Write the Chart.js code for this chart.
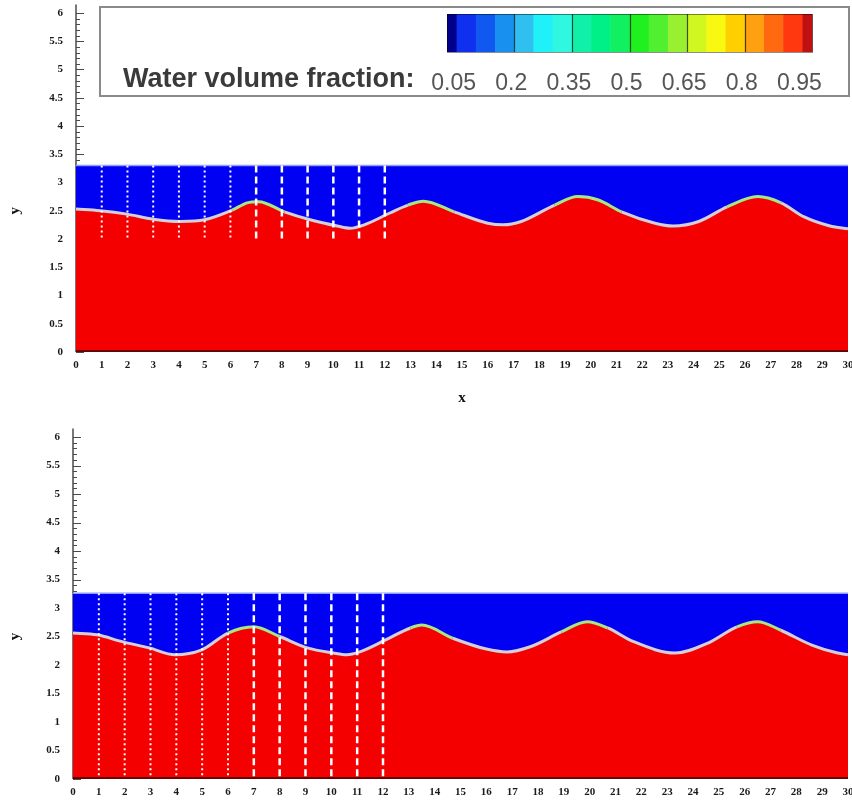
<!DOCTYPE html>
<html>
<head>
<meta charset="utf-8">
<script src="https://cdn.jsdelivr.net/npm/chart.js@4.4.0/dist/chart.umd.min.js"></script>
<style>
    html, body { margin: 0; padding: 0; background: #fff; }
    #wrap { position: relative; width: 852px; height: 801px; }
    canvas { position: absolute; left: 0; }
</style>
</head>
<body>
<div id="wrap">
    <canvas id="topChart" width="852" height="410" style="top:0"></canvas>
    <canvas id="bottomChart" width="852" height="391" style="top:410px"></canvas>
</div>
<script>
/**
 * Données (unités du domaine x / y)
 */
const xTicksMax = 30;
const yTicksMax = 6;
const yTickValues = [0, 0.5, 1, 1.5, 2, 2.5, 3, 3.5, 4, 4.5, 5, 5.5, 6];

// Surface libre - panneau du haut
const topSurfaceX = [0, 0.93, 1.98, 3.0, 4.05, 5.0, 6.07, 6.65, 7.1, 8.1, 9.1, 10.15, 10.65, 11.2, 12.2, 12.9, 13.5, 14.7, 16.0, 16.6, 17.3, 18.6, 19.5, 20.3, 21.2, 22.5, 23.2, 24.2, 25.3, 26.5, 27.4, 28.3, 29.3, 30];
const topSurfaceY = [2.53, 2.50, 2.44, 2.35, 2.31, 2.34, 2.51, 2.64, 2.66, 2.48, 2.34, 2.23, 2.19, 2.25, 2.46, 2.60, 2.67, 2.48, 2.28, 2.25, 2.31, 2.60, 2.75, 2.69, 2.48, 2.28, 2.23, 2.31, 2.57, 2.75, 2.64, 2.39, 2.23, 2.18];
const topWaterTop = 3.3;
const topGaugeBottom = 2.0;

// Surface libre - panneau du bas
const bottomSurfaceX = [0, 0.93, 1.9, 2.95, 3.95, 4.96, 6.0, 7.0, 8.0, 9.07, 10.08, 10.6, 11.1, 12.1, 13.06, 13.5, 14.7, 16.0, 16.8, 17.7, 18.9, 19.9, 20.7, 21.7, 23.3, 24.6, 25.7, 26.5, 27.4, 28.6, 29.6, 30];
const bottomSurfaceY = [2.56, 2.53, 2.41, 2.30, 2.18, 2.26, 2.56, 2.67, 2.50, 2.30, 2.21, 2.18, 2.23, 2.44, 2.65, 2.70, 2.47, 2.28, 2.23, 2.32, 2.58, 2.76, 2.65, 2.41, 2.21, 2.39, 2.67, 2.76, 2.61, 2.35, 2.21, 2.18];
const bottomWaterTop = 3.26;
const bottomGaugeBottom = 0;

// Sondes (lignes pointillées)
const gaugeX = [1, 2, 3, 4, 5, 6, 7, 8, 9, 10, 11, 12];

// Légende (fraction volumique)
const legendLabels = [0.05, 0.2, 0.35, 0.5, 0.65, 0.8, 0.95];
const legendLevels = [0.025, 0.05, 0.1, 0.15, 0.2, 0.25, 0.3, 0.35, 0.4, 0.45, 0.5, 0.55, 0.6, 0.65, 0.7, 0.75, 0.8, 0.85, 0.9, 0.95, 0.975];
const legendColors = ['#00008c', '#1030f0', '#1058f0', '#1890f0', '#30c0f0', '#20f0f8', '#30f8e0', '#10f0a8', '#00f088', '#10f060',
                      '#20f020', '#50f030', '#98f030', '#d0f820', '#f8f810', '#ffd000', '#ffa010', '#ff6a10', '#ff3810', '#c01010'];

const WATER_BLUE = '#0000f2';
const WATER_RED = '#f40000';
const tickFont = { family: '"Liberation Serif", "DejaVu Serif", serif', size: 11, weight: 'bold' };

/**
 * Axe y : ligne, graduations majeures et mineures vers l'intérieur, titre
 */
const axisDecor = {
    id: 'axisDecor',
    beforeDatasetsDraw(chart) {
        const { ctx, chartArea, scales: { y } } = chart;
        ctx.save();
        ctx.strokeStyle = '#4a4a4a';
        ctx.lineWidth = 1.5;
        ctx.beginPath();
        ctx.moveTo(chartArea.left, chartArea.bottom);
        ctx.lineTo(chartArea.left, chartArea.top);
        ctx.stroke();
        ctx.lineWidth = 1;
        for (let i = 0; i <= yTicksMax * 10; i++) {
            const py = Math.round(y.getPixelForValue(i / 10)) + 0.5;
            const len = i % 5 === 0 ? 8 : 4;
            ctx.beginPath();
            ctx.moveTo(chartArea.left, py);
            ctx.lineTo(chartArea.left + len, py);
            ctx.stroke();
        }
        ctx.restore();
    },
    afterDatasetsDraw(chart) {
        const { ctx, chartArea, scales: { y } } = chart;
        ctx.save();
        // bord inférieur du domaine
        ctx.strokeStyle = '#6a0000';
        ctx.lineWidth = 2;
        ctx.beginPath();
        ctx.moveTo(chartArea.left, chartArea.bottom - 1);
        ctx.lineTo(chartArea.right, chartArea.bottom - 1);
        ctx.stroke();
        // titre de l'axe y
        ctx.translate(15, y.getPixelForValue(2.5));
        ctx.rotate(-Math.PI / 2);
        ctx.fillStyle = '#111';
        ctx.font = 'bold 15px "Liberation Serif", serif';
        ctx.textAlign = 'center';
        ctx.textBaseline = 'middle';
        ctx.fillText('y', 0, 0);
        ctx.restore();
    }
};

/**
 * Cartouche de légende avec barre de couleurs
 */
const colorLegend = {
    id: 'colorLegend',
    afterDraw(chart) {
        const ctx = chart.ctx;
        ctx.save();
        ctx.fillStyle = '#fff';
        ctx.fillRect(100, 7, 749, 89);
        ctx.strokeStyle = '#8a8a8a';
        ctx.lineWidth = 2;
        ctx.strokeRect(100, 7, 749, 89);

        const barL = 447, barR = 812, barT = 14, barB = 52;
        const lo = legendLevels[0];
        const hi = legendLevels[legendLevels.length - 1];
        const px = v => barL + (v - lo) / (hi - lo) * (barR - barL);

        for (let i = 0; i < legendColors.length; i++) {
            const x0 = px(legendLevels[i]);
            const x1 = px(legendLevels[i + 1]);
            ctx.fillStyle = legendColors[i];
            ctx.fillRect(x0, barT, x1 - x0 + 0.5, barB - barT);
        }
        ctx.strokeStyle = 'rgba(20,20,20,0.75)';
        ctx.lineWidth = 1.2;
        legendLabels.slice(1, -1).forEach(v => {
            const x = Math.round(px(v)) + 0.5;
            ctx.beginPath();
            ctx.moveTo(x, barT);
            ctx.lineTo(x, barB);
            ctx.stroke();
        });
        ctx.strokeStyle = 'rgba(0,0,0,0.45)';
        ctx.lineWidth = 1;
        ctx.strokeRect(barL + 0.5, barT + 0.5, barR - barL, barB - barT);

        ctx.fillStyle = '#555';
        ctx.font = '23px "Liberation Sans", Arial, sans-serif';
        ctx.textAlign = 'center';
        ctx.textBaseline = 'alphabetic';
        legendLabels.forEach(v => ctx.fillText(String(v), px(v) - 3, 90));

        ctx.fillStyle = '#3a3a3a';
        ctx.font = 'bold 27px "Liberation Sans", Arial, sans-serif';
        ctx.textAlign = 'left';
        ctx.fillText('Water volume fraction:', 123, 87);
        ctx.restore();
    }
};

function toPoints(xs, ys) {
    return xs.map((x, i) => ({ x: x, y: ys[i] }));
}

function makeChart(canvasId, surfX, surfY, waterTop, gaugeBottom, frame, withLegend) {
    const datasets = [
        {
            // phase air (bleu) jusqu'au toit du domaine
            data: [{ x: 0, y: waterTop }, { x: xTicksMax, y: waterTop }],
            borderColor: '#8c9cff',
            borderWidth: 1.5,
            backgroundColor: WATER_BLUE,
            fill: 'origin',
            pointRadius: 0,
            order: 4
        },
        {
            // phase eau (rouge) sous la surface libre
            data: toPoints(surfX, surfY),
            borderWidth: 0,
            borderColor: 'rgba(0,0,0,0)',
            backgroundColor: WATER_RED,
            fill: 'origin',
            pointRadius: 0,
            cubicInterpolationMode: 'monotone',
            order: 3
        },
        {
            // interface (bande claire, verdâtre aux crêtes)
            data: toPoints(surfX, surfY),
            borderColor: '#d4cfd8',
            borderWidth: 3,
            fill: false,
            pointRadius: 0,
            cubicInterpolationMode: 'monotone',
            segment: {
                borderColor: ctx => (ctx.p0.parsed.y + ctx.p1.parsed.y) / 2 > 2.56 ? '#a8e884' : undefined
            },
            order: 2
        }
    ];

    gaugeX.forEach((gx, i) => {
        datasets.push({
            data: [{ x: gx, y: waterTop }, { x: gx, y: gaugeBottom }],
            borderColor: '#ffffff',
            borderWidth: i < 6 ? 2 : 2.5,
            borderDash: i < 6 ? [2, 3] : [7, 4],
            pointRadius: 0,
            fill: false,
            order: 1
        });
    });

    return new Chart(document.getElementById(canvasId), {
        type: 'line',
        data: { datasets: datasets },
        options: {
            responsive: false,
            animation: false,
            events: [],
            layout: { padding: { top: frame.top, right: frame.right, left: 0, bottom: 0 } },
            plugins: {
                legend: { display: false },
                tooltip: { enabled: false }
            },
            scales: {
                x: {
                    type: 'linear',
                    min: 0,
                    max: xTicksMax,
                    grid: { display: false, drawTicks: false },
                    border: { display: false },
                    ticks: {
                        stepSize: 1,
                        autoSkip: false,
                        maxRotation: 0,
                        padding: 7,
                        color: '#1a1a1a',
                        font: tickFont
                    },
                    title: {
                        display: frame.xTitle,
                        text: 'x',
                        color: '#111',
                        font: { family: '"Liberation Serif", serif', size: 15, weight: 'bold' },
                        padding: { top: 0, bottom: 3 }
                    },
                    afterFit(scale) {
                        scale.height = frame.xHeight;
                        scale.paddingLeft = 0;
                        scale.paddingRight = 0;
                    }
                },
                y: {
                    type: 'linear',
                    min: 0,
                    max: 6.15,
                    grid: { display: false, drawTicks: false },
                    border: { display: false },
                    ticks: {
                        padding: 13,
                        color: '#1a1a1a',
                        font: tickFont,
                        callback: v => String(v)
                    },
                    afterBuildTicks(scale) {
                        scale.ticks = yTickValues.map(v => ({ value: v }));
                    },
                    afterFit(scale) {
                        scale.width = frame.yWidth;
                        scale.paddingTop = 0;
                        scale.paddingBottom = 0;
                    }
                }
            }
        },
        plugins: withLegend ? [axisDecor, colorLegend] : [axisDecor]
    });
}

document.addEventListener('DOMContentLoaded', function() {
    makeChart('topChart', topSurfaceX, topSurfaceY, topWaterTop, topGaugeBottom,
        { top: 4.5, right: 4, yWidth: 76, xHeight: 58, xTitle: true }, true);
    makeChart('bottomChart', bottomSurfaceX, bottomSurfaceY, bottomWaterTop, bottomGaugeBottom,
        { top: 18.5, right: 4, yWidth: 73, xHeight: 22, xTitle: false }, false);
});
</script>
</body>
</html>
